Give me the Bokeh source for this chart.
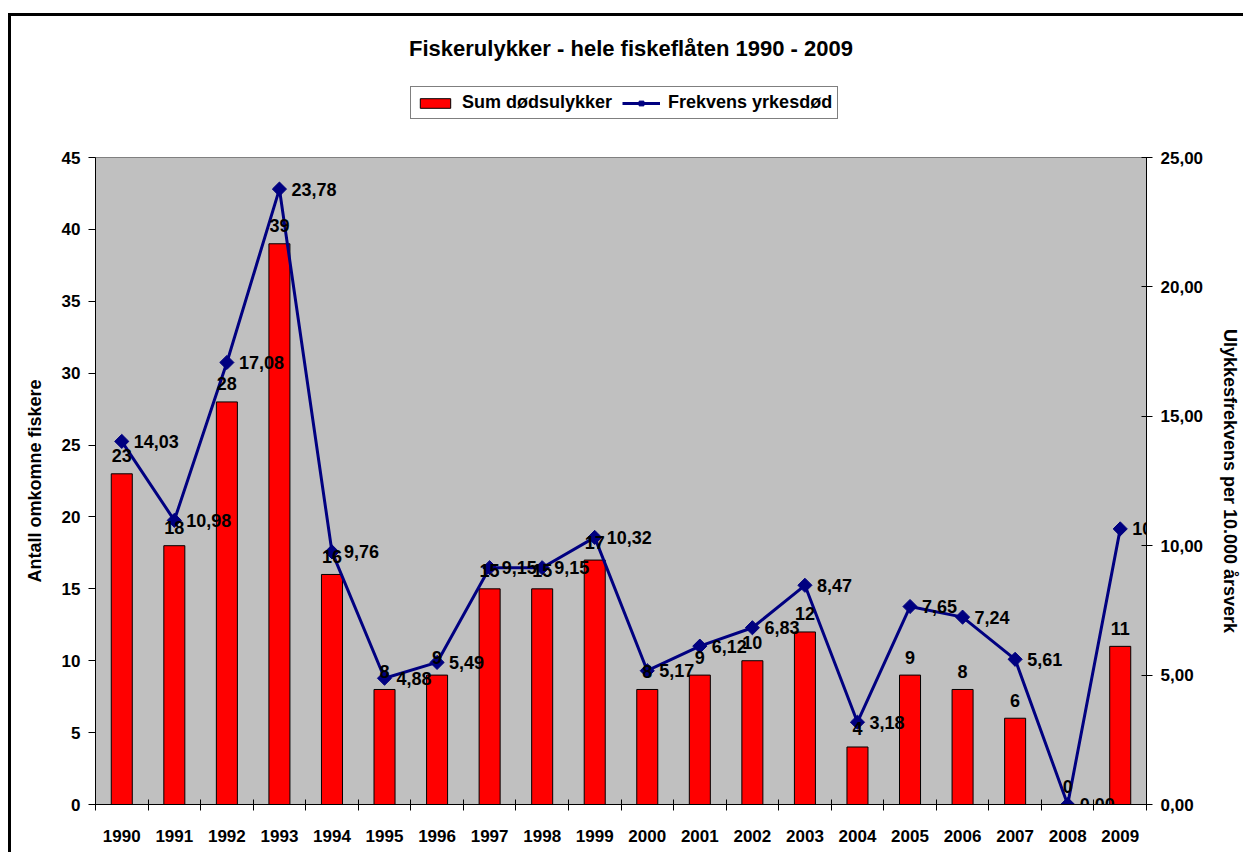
import math
from bokeh.plotting import figure
from bokeh.layouts import column
from bokeh.models import (ColumnDataSource, Range1d, LinearAxis, FixedTicker, LabelSet,
                          Label, Legend, LegendItem)
from bokeh.core.properties import value
from bokeh.embed import file_html
from bokeh.resources import INLINE

# ---- data ----
years = [str(y) for y in range(1990, 2010)]
deaths = [23, 18, 28, 39, 16, 8, 9, 15, 15, 17, 8, 9, 10, 12, 4, 9, 8, 6, 0, 11]
freq = [14.03, 10.98, 17.08, 23.78, 9.76, 4.88, 5.49, 9.15, 9.15, 10.32,
        5.17, 6.12, 6.83, 8.47, 3.18, 7.65, 7.24, 5.61, 0.00, 10.65]
left_ticks = [0, 5, 10, 15, 20, 25, 30, 35, 40, 45]
right_ticks = [0, 5, 10, 15, 20, 25]
title_text = "Fiskerulykker - hele fiskeflåten 1990 - 2009"
bar_name = "Sum dødsulykker"
line_name = "Frekvens yrkesdød"

FONT = "Liberation Sans"
RED = "#FF0000"
NAVY = "#000080"

xs = [i + 0.5 for i in range(len(years))]
src = ColumnDataSource(dict(
    x=xs, deaths=deaths, freq=freq,
    dlab=[str(d) for d in deaths],
    flab=[f"{v:.2f}".replace(".", ",") for v in freq],
))

W = 1232
HEAD_H = 130
FRAME_W = 1052

# ---------------- header (title + legend) ----------------
# its frame is aligned with the main chart's frame by the column layout
h = figure(width=W, height=HEAD_H, output_backend="svg", toolbar_location=None,
           x_range=Range1d(0, FRAME_W), y_range=Range1d(0, HEAD_H),
           x_axis_location=None, y_axis_location=None, title_location=None,
           min_border=0, outline_line_color=None,
           background_fill_color="white", border_fill_color="white")
h.xgrid.grid_line_color = None
h.ygrid.grid_line_color = None
# legend proxies: same series, drawn on a range where they fall out of view
h.extra_y_ranges = {"off": Range1d(1000, 2000)}
lb = h.vbar(x="x", top="deaths", bottom=0, width=0.4, source=src, y_range_name="off",
            fill_color=RED, line_color="black", line_width=1)
ll = h.line(x="x", y="freq", source=src, y_range_name="off",
            line_color=NAVY, line_width=3)
lm = h.scatter(x="x", y="freq", source=src, y_range_name="off",
               marker="square", angle=math.pi / 4, size=9,
               fill_color=NAVY, line_color=NAVY)
h.add_layout(Label(x=536, y=98, text=title_text,
                   text_align="center", text_baseline="middle",
                   text_font=FONT, text_font_style="bold", text_font_size="22px",
                   text_color="black"))
legend = Legend(items=[LegendItem(label=bar_name, renderers=[lb]),
                       LegendItem(label=line_name, renderers=[ll, lm])],
                location=(315, 27), orientation="horizontal",
                border_line_color="black", border_line_width=1,
                background_fill_color="white", background_fill_alpha=1,
                padding=5, spacing=10, label_standoff=8, margin=0,
                glyph_width=38, glyph_height=12,
                label_text_font=FONT, label_text_font_style="bold",
                label_text_font_size="18px", label_text_color="black")
h.add_layout(legend, "center")

# ---------------- main chart ----------------
p = figure(width=W, height=706, output_backend="svg", toolbar_location=None,
           x_range=Range1d(0, len(years)), y_range=Range1d(0, 45),
           title_location=None,
           min_border_left=84, min_border_right=96, min_border_top=11,
           min_border_bottom=48,
           background_fill_color="#C0C0C0", border_fill_color="white",
           outline_line_color="#808080", outline_line_width=1)
p.extra_y_ranges = {"right": Range1d(0, 25)}
p.xgrid.grid_line_color = None
p.ygrid.grid_line_color = None

bars = p.vbar(x="x", top="deaths", bottom=0, width=0.4, source=src,
              fill_color=RED, line_color="black", line_width=1)
line = p.line(x="x", y="freq", source=src, y_range_name="right",
              line_color=NAVY, line_width=3)
marks = p.scatter(x="x", y="freq", source=src, y_range_name="right",
                  marker="square", angle=math.pi / 4, size=10,
                  fill_color=NAVY, line_color=NAVY)

p.add_layout(LabelSet(x="x", y="deaths", text="dlab", source=src,
                      text_align="center", text_baseline="middle", y_offset=18,
                      text_font=value(FONT), text_font_style="bold",
                      text_font_size="18px", text_color="black"))
p.add_layout(LabelSet(x="x", y="freq", text="flab", source=src, y_range_name="right",
                      text_align="left", text_baseline="middle", x_offset=12,
                      text_font=value(FONT), text_font_style="bold",
                      text_font_size="18px", text_color="black"))

xa = p.xaxis[0]
xa.ticker = FixedTicker(ticks=xs, minor_ticks=list(range(len(years) + 1)))
xa.major_label_overrides = {x: y for x, y in zip(xs, years)}
xa.major_tick_line_color = None
xa.major_tick_out = 0
xa.major_tick_in = 0
xa.minor_tick_in = 5
xa.minor_tick_out = 6
xa.minor_tick_line_color = "black"
xa.axis_line_color = "black"
xa.major_label_standoff = 19
xa.major_label_text_font = FONT
xa.major_label_text_font_style = "bold"
xa.major_label_text_font_size = "17px"
xa.major_label_text_color = "black"

ya = p.yaxis[0]
ya.ticker = FixedTicker(ticks=left_ticks)
ya.major_tick_out = 7
ya.major_tick_in = 0
ya.minor_tick_line_color = None
ya.axis_line_color = "black"
ya.major_label_standoff = 8
ya.major_label_text_font = FONT
ya.major_label_text_font_style = "bold"
ya.major_label_text_font_size = "17px"
ya.major_label_text_color = "black"
ya.axis_label = "Antall omkomne fiskere"
ya.axis_label_text_font = FONT
ya.axis_label_text_font_style = "bold"
ya.axis_label_text_font_size = "18px"
ya.axis_label_text_color = "black"
ya.axis_label_standoff = 14

ra = LinearAxis(y_range_name="right", ticker=FixedTicker(ticks=right_ticks))
ra.major_label_overrides = {t: f"{t:.2f}".replace(".", ",") for t in right_ticks}
ra.major_tick_out = 6
ra.major_tick_in = 5
ra.minor_tick_line_color = None
ra.axis_line_color = "black"
ra.major_label_standoff = 8
ra.major_label_text_font = FONT
ra.major_label_text_font_style = "bold"
ra.major_label_text_font_size = "17px"
ra.major_label_text_color = "black"
ra.axis_label = "Ulykkesfrekvens per 10.000 årsverk"
ra.axis_label_text_font = FONT
ra.axis_label_text_font_style = "bold"
ra.axis_label_text_font_size = "18px"
ra.axis_label_text_color = "black"
ra.axis_label_standoff = 14
p.add_layout(ra, "right")

layout = column(h, p, spacing=0)
layout.styles = {"border-top": "3px solid black", "border-left": "3px solid black",
                 "margin-top": "13px", "margin-left": "8px"}

open("out.html", "w").write(file_html(layout, INLINE))
